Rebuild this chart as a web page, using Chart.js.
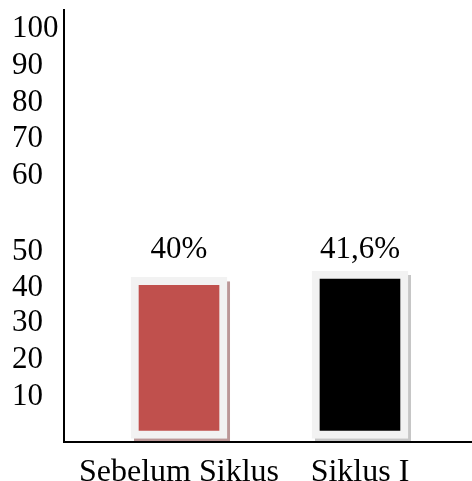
<!DOCTYPE html>
<html>
<head>
<meta charset="utf-8">
<script src="https://cdn.jsdelivr.net/npm/chart.js@4"></script>
<style>
  html, body { margin: 0; padding: 0; background: #fff; }
</style>
</head>
<body>
<canvas id="myChart" width="472" height="481"></canvas>
<script>
// data
var categories = ['Sebelum Siklus', 'Siklus I'];
var values = [40, 41.6];
var barColors = ['#c0504d', '#000000'];
var shadowColors = ['#bb9797', '#c6c6c6'];

// the y labels in the picture are not evenly spaced (big gap between 60 and 50)
var tickLabels = ['10', '20', '30', '40', '50', '60', '70', '80', '90', '100'];
var tickValues = [10.3, 19.5, 28.7, 37.4, 46.4, 65.2, 74.5, 83.5, 92.6, 101.9];

var serif = '"Liberation Serif", "Times New Roman", serif';

function fmt(v) {
    return String(v).replace('.', ',') + '%';
}

// flat shadow down-right of each bar
var barShadow = {
    id: 'barShadow',
    beforeDatasetsDraw: function(chart) {
        var ctx = chart.ctx;
        var meta = chart.getDatasetMeta(0);
        ctx.save();
        meta.data.forEach(function(bar, i) {
            var p = bar.getProps(['x', 'y', 'base', 'width'], true);
            ctx.fillStyle = shadowColors[i];
            ctx.fillRect(p.x - p.width / 2 + 3, p.y + 4, p.width, p.base - p.y);
        });
        ctx.restore();
    }
};

// value labels, all on one line above the tallest bar
var valueLabels = {
    id: 'valueLabels',
    afterDatasetsDraw: function(chart) {
        var ctx = chart.ctx;
        var meta = chart.getDatasetMeta(0);
        var top = Math.min.apply(null, meta.data.map(function(b) { return b.y; }));
        ctx.save();
        ctx.font = '31px ' + serif;
        ctx.fillStyle = '#000';
        ctx.textAlign = 'center';
        ctx.textBaseline = 'middle';
        meta.data.forEach(function(bar, i) {
            ctx.fillText(fmt(values[i]), bar.x, top - 21);
        });
        ctx.restore();
    }
};

var ctx = document.getElementById('myChart');
var myChart = new Chart(ctx, {
    type: 'bar',
    data: {
        datasets: [{
            data: values.map(function(v, i) { return {x: i, y: v}; }),
            backgroundColor: barColors,
            borderColor: '#f2f2f2',
            borderWidth: 8,
            borderSkipped: false,
            barThickness: 96
        }]
    },
    options: {
        responsive: false,
        animation: false,
        layout: { padding: { left: 12, top: 10, right: 0, bottom: 0 } },
        plugins: {
            legend: { display: false },
            tooltip: { enabled: false }
        },
        scales: {
            x: {
                type: 'linear',
                offset: false,
                min: -0.6355,
                max: 1.619,
                grid: { display: false, offset: false },
                border: { display: true, color: '#000', width: 2, z: 1 },
                afterBuildTicks: function(scale) {
                    scale.ticks = categories.map(function(c, i) { return {value: i}; });
                },
                afterFit: function(scale) {
                    scale.height = 39;
                    scale.paddingLeft = 0;
                    scale.paddingRight = 0;
                },
                ticks: {
                    autoSkip: false,
                    maxRotation: 0,
                    padding: 3,
                    color: '#000',
                    font: { family: serif, size: 32 },
                    callback: function(v) { return categories[v]; }
                }
            },
            y: {
                min: -0.92,
                max: 106.5,
                grid: { display: false },
                border: { display: true, color: '#000', width: 2, z: 1 },
                afterBuildTicks: function(scale) {
                    scale.ticks = tickValues.map(function(v) { return {value: v}; });
                },
                afterFit: function(scale) {
                    scale.width = 52;
                    scale.paddingTop = 0;
                    scale.paddingBottom = 0;
                },
                ticks: {
                    autoSkip: false,
                    crossAlign: 'far',
                    color: '#000',
                    font: { family: serif, size: 31 },
                    callback: function(v, i) { return tickLabels[i]; }
                }
            }
        }
    },
    plugins: [barShadow, valueLabels]
});
</script>
</body>
</html>
